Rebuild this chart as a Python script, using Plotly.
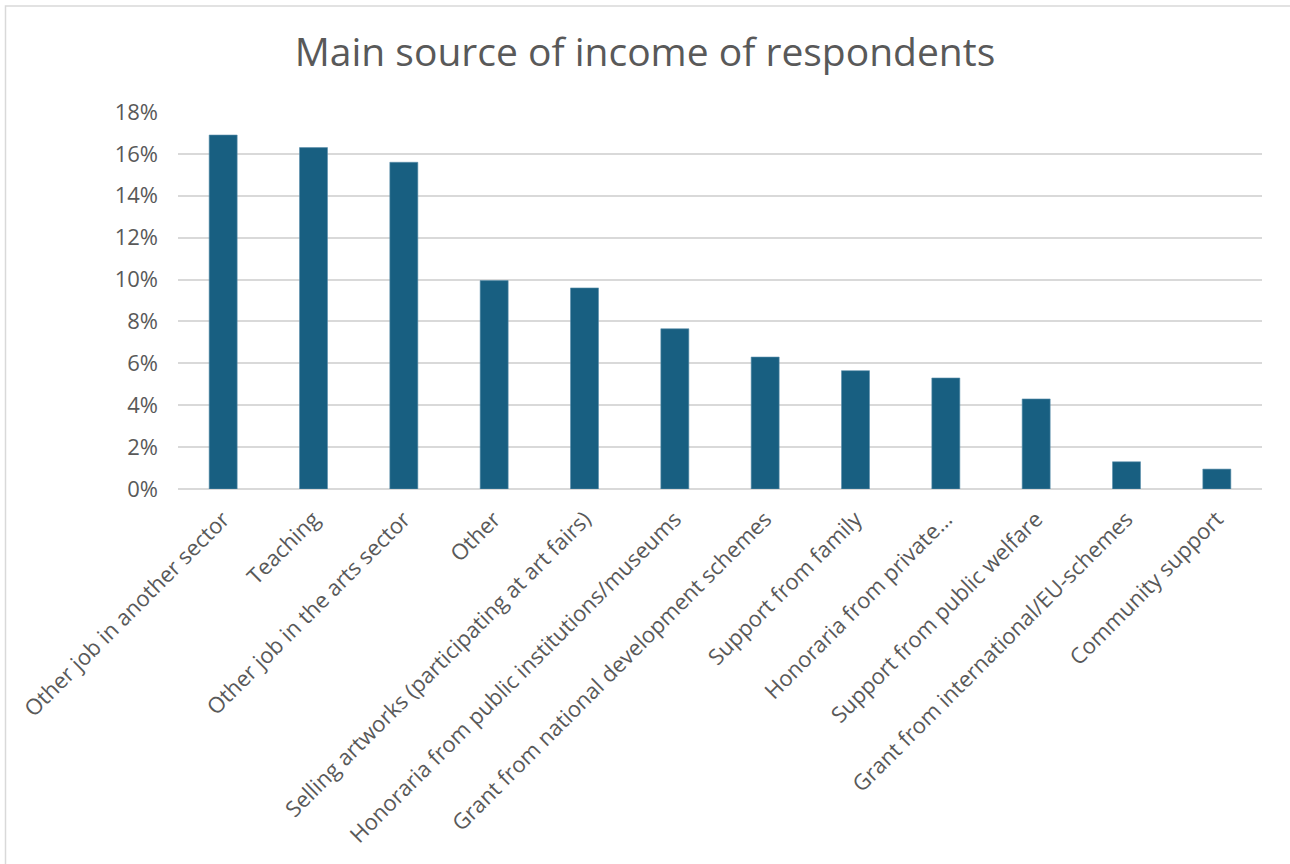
import plotly.graph_objects as go

# Main source of income, share of respondents (%)
categories = [
    "Other job in another sector",
    "Teaching",
    "Other job in the arts sector",
    "Other",
    "Selling artworks (participating at art fairs)",
    "Honoraria from public institutions/museums",
    "Grant from national development schemes",
    "Support from family",
    "Honoraria from private…",
    "Support from public welfare",
    "Grant from international/EU-schemes",
    "Community support",
]
shares = [16.9, 16.3, 15.6, 9.95, 9.6, 7.65, 6.3, 5.65, 5.3, 4.3, 1.3, 0.95]
y_ticks = [0, 2, 4, 6, 8, 10, 12, 14, 16, 18]
y_tick_labels = [f"{v}%" for v in y_ticks]

FONT = "Open Sans"
GREY = "#595959"

fig = go.Figure(
    go.Bar(
        x=categories,
        y=shares,
        marker=dict(color="#185f81", line=dict(color="#5a8fab", width=0.6)),
        hoverinfo="x+y",
    )
)

W, H = 1290, 864
L, R, T, B = 178, 28, 112, 375

fig.update_layout(
    width=W,
    height=H,
    margin=dict(l=L, r=R, t=T, b=B, autoexpand=False),
    paper_bgcolor="white",
    plot_bgcolor="white",
    bargap=0.69,
    showlegend=False,
    font=dict(family=FONT, color=GREY),
    title=dict(
        text="Main source of income of respondents",
        x=0.5,
        xanchor="center",
        xref="container",
        y=1 - 52 / H,
        yanchor="middle",
        font=dict(family=FONT, size=39, color=GREY),
    ),
    xaxis=dict(
        tickangle=-45,
        tickfont=dict(family=FONT, size=22, color=GREY),
        showgrid=False,
        showline=False,
        ticks="",
        ticklabelstandoff=12,
        automargin=False,
    ),
    yaxis=dict(
        range=[0, 18],
        tickvals=y_ticks,
        ticktext=y_tick_labels,
        tickfont=dict(family=FONT, size=22, color=GREY),
        showgrid=True,
        gridcolor="#d9d9d9",
        gridwidth=1.5,
        zeroline=True,
        zerolinecolor="#d9d9d9",
        zerolinewidth=1.5,
        showline=False,
        ticks="",
        ticklabelstandoff=19,
        automargin=False,
    ),
)

# light frame around the chart area
pw, ph = W - L - R, H - T - B
fig.add_shape(
    type="rect",
    xref="paper",
    yref="paper",
    x0=(5.5 - L) / pw,
    x1=(W + 3 - L) / pw,
    y0=(H - B - (H + 3)) / ph,
    y1=(H - B - 6) / ph,
    line=dict(color="#d9d9d9", width=1.5),
    fillcolor="rgba(0,0,0,0)",
    layer="below",
)

fig.write_html("out.html")
